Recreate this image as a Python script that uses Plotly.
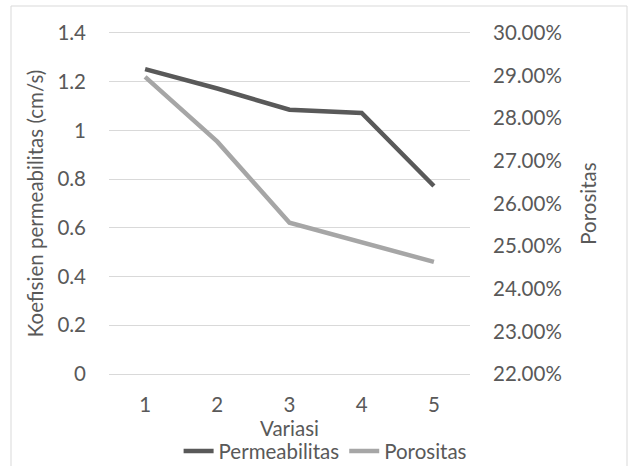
import plotly.graph_objects as go

variasi = [1, 2, 3, 4, 5]
permeabilitas = [1.252, 1.172, 1.085, 1.072, 0.772]
porositas = [0.2897, 0.2745, 0.2555, 0.2508, 0.2463]

FONT = "Lato"
TXT = "#595959"
GRID = "#D9D9D9"
TS = 20.5
TK = 20.5

fig = go.Figure()
fig.add_trace(go.Scatter(x=variasi, y=permeabilitas, name="Permeabilitas", mode="lines",
                         line=dict(color="#595959", width=4.5), yaxis="y"))
fig.add_trace(go.Scatter(x=variasi, y=porositas, name="Porositas", mode="lines",
                         line=dict(color="#A6A6A6", width=4.5), yaxis="y2"))

fig.update_layout(
    width=630, height=466,
    paper_bgcolor="white", plot_bgcolor="white",
    margin=dict(l=109, r=160, t=33, b=92, autoexpand=False),
    font=dict(family=FONT, size=TK, color=TXT),
    showlegend=True,
    legend=dict(orientation="h", x=0.6, xanchor="center", y=-0.226, yanchor="middle",
                font=dict(size=TK, color=TXT), traceorder="normal",
                bgcolor="rgba(0,0,0,0)"),
    xaxis=dict(range=[0.5, 5.5], tickvals=variasi, ticktext=[str(v) for v in variasi],
               showgrid=False, zeroline=False, showline=True, mirror=True,
               linecolor=GRID, linewidth=1,
               ticks="outside", ticklen=12, tickcolor="rgba(0,0,0,0)",
               title=dict(text="Variasi", standoff=0, font=dict(size=TS, color=TXT)),
               tickfont=dict(size=TK, color=TXT)),
    yaxis=dict(range=[0, 1.4], dtick=0.2, tickformat="~g", showgrid=True, gridcolor=GRID,
               gridwidth=1, zeroline=False, showline=False, ticklabelstandoff=22,
               title=dict(text="Koefisien permeabilitas (cm/s)", standoff=8,
                          font=dict(size=TS, color=TXT)),
               tickfont=dict(size=TK, color=TXT)),
    yaxis2=dict(range=[0.22, 0.30], dtick=0.01, tickformat=".2%", overlaying="y", side="right",
                showgrid=False, zeroline=False, showline=False, ticklabelstandoff=22,
                title=dict(text="Porositas", standoff=20, font=dict(size=TS, color=TXT)),
                tickfont=dict(size=TK, color=TXT)),
    shapes=[dict(type="rect", xref="paper", yref="paper",
                 x0=-98/361, x1=518/361, y0=-95/341, y1=368/341,
                 line=dict(color=GRID, width=1), fillcolor="rgba(0,0,0,0)", layer="below")],
)

fig.write_html("out.html")
